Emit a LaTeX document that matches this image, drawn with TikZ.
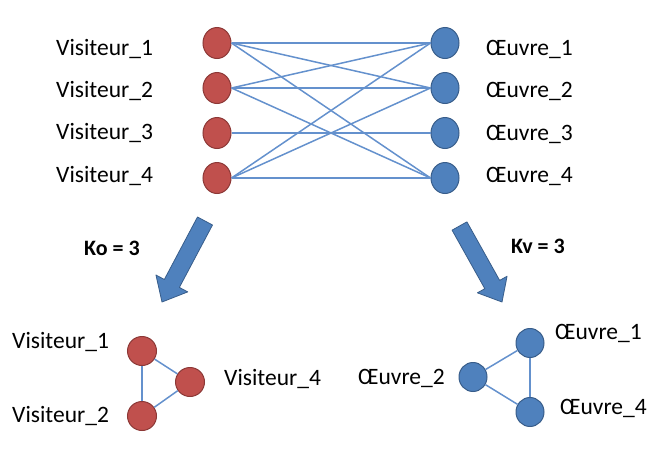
\documentclass[tikz,border=0pt]{standalone}
\usepackage{fontspec}
\setmainfont{Carlito}
\usetikzlibrary{shapes.geometric,calc}
\definecolor{redfill}{RGB}{192,80,77}
\definecolor{redline}{RGB}{140,56,54}
\definecolor{bluefill}{RGB}{79,129,189}
\definecolor{blueline}{RGB}{56,93,138}
\definecolor{edgecol}{RGB}{100,145,205}
\begin{document}
\begin{tikzpicture}[x=1pt,y=-1pt,
  rnode/.style={ellipse, fill=redfill, draw=redline, line width=1pt, minimum width=28pt, minimum height=31pt, inner sep=0pt},
  bnode/.style={ellipse, fill=bluefill, draw=blueline, line width=1pt, minimum width=28pt, minimum height=31pt, inner sep=0pt},
  rsmall/.style={rnode, minimum width=29pt, minimum height=29pt},
  bsmall/.style={bnode, minimum width=28pt, minimum height=29pt},
  lbl/.style={anchor=base west, inner sep=0pt, font=\fontsize{23.5}{26}\selectfont},
  klbl/.style={anchor=base west, inner sep=0pt, font=\bfseries\fontsize{22}{26}\selectfont},
  edge/.style={draw=edgecol, line width=1.5pt},
  barrow/.style={fill=bluefill, draw=blueline, line width=0.8pt, line join=round}]
\useasboundingbox (0,0) rectangle (670,469);

% top bipartite graph
\node[rnode] (v1) at (217,43) {};
\node[rnode] (v2) at (217,88) {};
\node[rnode] (v3) at (217,133) {};
\node[rnode] (v4) at (217,178) {};
\node[bnode] (o1) at (445,43) {};
\node[bnode] (o2) at (445,88) {};
\node[bnode] (o3) at (445,133) {};
\node[bnode] (o4) at (445,178) {};

\node[lbl] (tv1) at (56,55) {Visiteur\_1};
\node[lbl] (tv2) at (56,97) {Visiteur\_2};
\node[lbl] (tv3) at (56,139) {Visiteur\_3};
\node[lbl] (tv4) at (56,182) {Visiteur\_4};
\node[lbl] (to1) at (486,55) {Œuvre\_1};
\node[lbl] (to2) at (486,97) {Œuvre\_2};
\node[lbl] (to3) at (486,140) {Œuvre\_3};
\node[lbl] (to4) at (486,182) {Œuvre\_4};

\foreach \a/\b in {1/1,1/2,1/4,2/1,2/2,2/4,3/3,4/1,4/2,4/4}
  \draw[edge] (v\a.east) -- (o\b.west);

% block arrows
\coordinate (la) at (205,221);
\coordinate (lb) at (162,302);
\coordinate (lh) at ($(lb)!21pt!(la)$);
\filldraw[barrow] ($(la)!8.5pt!90:(lb)$) -- ($(lh)!8.5pt!90:(lb)$) -- ($(lh)!18pt!90:(lb)$) -- (lb)
  -- ($(lh)!18pt!-90:(lb)$) -- ($(lh)!8.5pt!-90:(lb)$) -- ($(la)!8.5pt!-90:(lb)$) -- cycle;

\coordinate (ra) at (459.5,226);
\coordinate (rb) at (502,302);
\coordinate (rh) at ($(rb)!20pt!(ra)$);
\filldraw[barrow] ($(ra)!8.5pt!90:(rb)$) -- ($(rh)!8.5pt!90:(rb)$) -- ($(rh)!17pt!90:(rb)$) -- (rb)
  -- ($(rh)!17pt!-90:(rb)$) -- ($(rh)!8.5pt!-90:(rb)$) -- ($(ra)!8.5pt!-90:(rb)$) -- cycle;

\node[klbl] (ko) at (84,255) {Ko = 3};
\node[klbl] (kv) at (511,253) {Kv = 3};

% bottom left triangle
\node[rsmall] (bv1) at (142,351) {};
\node[rsmall] (bv4) at (190,382) {};
\node[rsmall] (bv2) at (142,416) {};
\draw[edge] (bv1) -- (bv2);
\draw[edge] (bv1) -- (bv4);
\draw[edge] (bv4) -- (bv2);
\node[lbl] (tbv1) at (12,348) {Visiteur\_1};
\node[lbl] (tbv2) at (12,422) {Visiteur\_2};
\node[lbl] (tbv4) at (224,385) {Visiteur\_4};

% bottom right triangle
\node[bsmall] (bo2) at (473,377) {};
\node[bsmall] (bo1) at (530,343) {};
\node[bsmall] (bo4) at (530,412) {};
\draw[edge] (bo2) -- (bo1);
\draw[edge] (bo1) -- (bo4);
\draw[edge] (bo2) -- (bo4);
\node[lbl] (tbo2) at (358,384) {Œuvre\_2};
\node[lbl] (tbo1) at (555,339) {Œuvre\_1};
\node[lbl] (tbo4) at (560,414) {Œuvre\_4};
\end{tikzpicture}
\end{document}
